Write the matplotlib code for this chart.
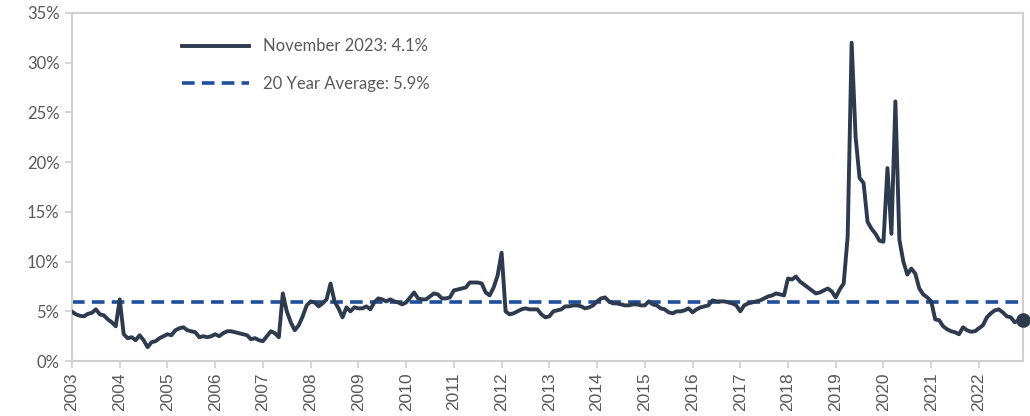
import numpy as np
import matplotlib
matplotlib.use("Agg")
import matplotlib.pyplot as plt
from matplotlib.ticker import FuncFormatter

# monthly values (%), one row per labelled year block
rate = [
    4.96, 4.7, 4.55, 4.5, 4.75, 4.85, 5.2, 4.7, 4.6, 4.2, 3.9, 3.5,
    6.2, 2.7, 2.3, 2.4, 2.1, 2.6, 2.1, 1.4, 1.9, 2.0, 2.3, 2.5,
    2.7, 2.6, 3.1, 3.3, 3.4, 3.1, 3.0, 2.9, 2.4, 2.5, 2.4, 2.5,
    2.7, 2.5, 2.8, 3.0, 3.0, 2.9, 2.8, 2.7, 2.6, 2.2, 2.3, 2.1,
    2.0, 2.5, 3.0, 2.8, 2.4, 6.8, 5.0, 3.9, 3.1, 3.6, 4.5, 5.6,
    6.0, 5.9, 5.5, 5.8, 6.2, 7.8, 6.0, 5.3, 4.4, 5.4, 5.0, 5.4,
    5.3, 5.3, 5.5, 5.2, 5.9, 6.3, 6.2, 6.0, 6.2, 6.0, 5.9, 5.7,
    5.9, 6.4, 6.9, 6.3, 6.2, 6.2, 6.5, 6.8, 6.7, 6.3, 6.3, 6.4,
    7.1, 7.2, 7.3, 7.4, 7.9, 7.9, 7.9, 7.8, 6.9, 6.6, 7.4, 8.6,
    10.9, 5.0, 4.7, 4.8, 5.0, 5.2, 5.3, 5.2, 5.2, 5.2, 4.7, 4.4,
    4.5, 5.0, 5.1, 5.2, 5.5, 5.5, 5.6, 5.6, 5.5, 5.3, 5.4, 5.6,
    6.0, 6.3, 6.4, 6.0, 5.8, 5.8, 5.7, 5.6, 5.6, 5.7, 5.7, 5.6,
    5.6, 6.0, 5.7, 5.6, 5.3, 5.2, 4.9, 4.8, 5.0, 5.0, 5.1, 5.3,
    4.9, 5.2, 5.4, 5.5, 5.6, 6.1, 6.0, 6.0, 6.0, 5.9, 5.8, 5.6,
    5.0, 5.6, 5.8, 5.9, 6.0, 6.1, 6.3, 6.5, 6.6, 6.8, 6.7, 6.6,
    8.3, 8.2, 8.5, 8.0, 7.7, 7.4, 7.1, 6.8, 6.9, 7.1, 7.3, 7.0,
    6.4, 7.2, 7.8, 12.5, 32.0, 22.5, 18.4, 17.9, 14.0, 13.3, 12.8, 12.1,
    12.0, 19.4, 12.8, 26.1, 12.2, 10.0, 8.7, 9.3, 8.8, 7.3, 6.7, 6.4,
    6.0, 4.2, 4.1, 3.5, 3.2, 3.0, 2.9, 2.7, 3.4, 3.1, 2.95, 3.0,
    3.3, 3.6, 4.4, 4.8, 5.1, 5.2, 4.9, 4.5, 4.4, 3.9, 4.1, 4.1,
]
average = 5.9
years = [str(y) for y in range(2003, 2023)]
latest_label = "November 2023: 4.1%"
avg_label = "20 Year Average: 5.9%"

line_col = "#2e3a4e"
avg_col = "#1f4e9c"
grey = "#595959"
spine_col = "#d0d0d0"

x = np.arange(len(rate))

fig = plt.figure(figsize=(10.3, 4.16), dpi=100)
ax = fig.add_axes([0.0699, 0.132, 0.923, 0.837])

ax.plot(x, rate, color=line_col, lw=2.8, solid_joinstyle="round", label=latest_label, zorder=3)
ax.axhline(average, color=avg_col, lw=2.6, ls=(0, (3.5, 2.0)), label=avg_label, zorder=2)
ax.plot(x[-1], rate[-1], "o", color=line_col, ms=9.5, zorder=4, clip_on=False)

ax.set_xlim(0, len(rate) - 1)
ax.set_ylim(0, 35)
ax.set_yticks(range(0, 36, 5))
ax.yaxis.set_major_formatter(FuncFormatter(lambda v, p: f"{v:.0f}%"))
ax.set_xticks(x[::12])
ax.set_xticklabels(years, rotation=90, fontsize=12.5, color=grey, family="Liberation Sans")

for lab in ax.get_yticklabels():
    lab.set_family("Lato")
    lab.set_fontsize(12)
    lab.set_color(grey)

ax.tick_params(axis="both", colors=spine_col, labelcolor=grey, length=5, width=1.2)
ax.tick_params(axis="x", pad=3)
ax.tick_params(axis="y", pad=4)

for s in ax.spines.values():
    s.set_color(spine_col)
    s.set_linewidth(1.5)

leg = ax.legend(loc="upper left", bbox_to_anchor=(0.1, 0.97), frameon=False,
                handlelength=4.0, handletextpad=0.85, labelspacing=1.3,
                prop={"family": "Lato", "size": 12})
for t in leg.get_texts():
    t.set_color(grey)

fig.savefig("out.png", dpi=100)
